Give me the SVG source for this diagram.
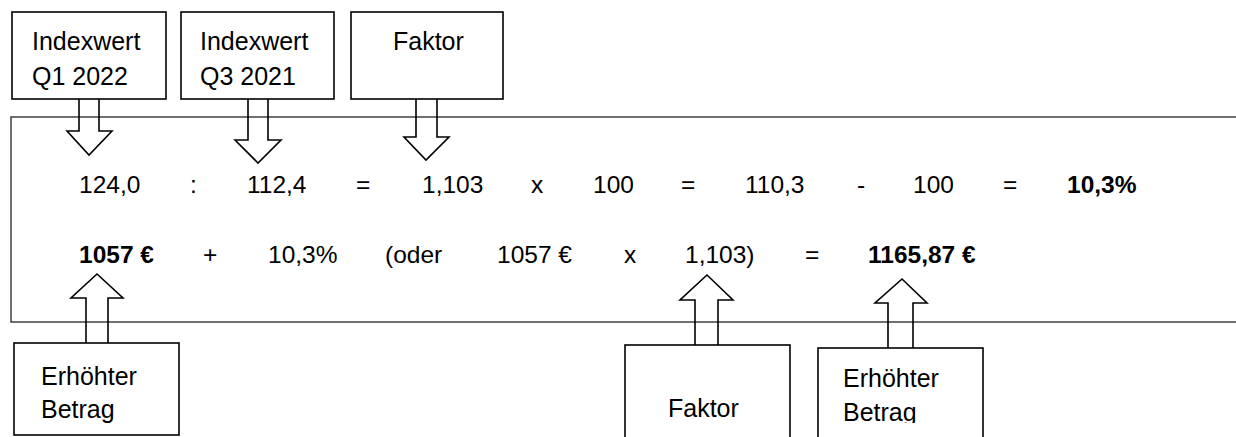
<svg xmlns="http://www.w3.org/2000/svg" width="1236" height="437" viewBox="0 0 1236 437">
<style>
.bg{fill:#ffffff}
.frame{fill:none;stroke:#404040;stroke-width:1.5}
.box{fill:#ffffff;stroke:#000000;stroke-width:1.6}
.arrow{fill:none;stroke:#000000;stroke-width:1.6;stroke-linejoin:miter}
.lbl{font-family:"Liberation Sans",Arial,sans-serif;font-size:25px;fill:#000000}
.eq{font-family:"Liberation Sans",Arial,sans-serif;font-size:24.5px;fill:#000000}
.b{font-weight:bold}
</style>
<defs>
<clipPath id="clipB1"><rect x="14" y="343" width="165" height="80"/></clipPath>
<clipPath id="clipB3"><rect x="818" y="348" width="165" height="75"/></clipPath>
</defs>
<rect class="bg" x="0" y="0" width="1236" height="437"/>

<g id="frame">
<path class="frame" d="M1240,117 H11 V322 H1240"/>
</g>

<g id="equations">
<text class="eq" x="79" y="193">124,0</text>
<text class="eq" x="190" y="193">:</text>
<text class="eq" x="247" y="193">112,4</text>
<text class="eq" x="356" y="193">=</text>
<text class="eq" x="422" y="193">1,103</text>
<text class="eq" x="531" y="193">x</text>
<text class="eq" x="593" y="193">100</text>
<text class="eq" x="681" y="193">=</text>
<text class="eq" x="745" y="193">110,3</text>
<text class="eq" x="857" y="193">-</text>
<text class="eq" x="913" y="193">100</text>
<text class="eq" x="1003" y="193">=</text>
<text class="eq b" x="1067" y="193">10,3%</text>

<text class="eq b" x="79" y="263">1057 €</text>
<text class="eq" x="203" y="263">+</text>
<text class="eq" x="268" y="263">10,3%</text>
<text class="eq" x="385" y="263">(oder</text>
<text class="eq" x="497" y="263">1057 €</text>
<text class="eq" x="624" y="263">x</text>
<text class="eq" x="685" y="263">1,103)</text>
<text class="eq" x="805" y="263">=</text>
<text class="eq b" x="868" y="263">1165,87 €</text>
</g>

<g id="node-indexwert-q1">
<rect class="box" x="12" y="12" width="154" height="87"/>
<text class="lbl" x="32" y="50">Indexwert</text>
<text class="lbl" x="32" y="85">Q1 2022</text>
</g>

<g id="node-indexwert-q3">
<rect class="box" x="181" y="12" width="153" height="87"/>
<text class="lbl" x="200" y="50">Indexwert</text>
<text class="lbl" x="200" y="85">Q3 2021</text>
</g>

<g id="node-faktor-top">
<rect class="box" x="351" y="12" width="152" height="87"/>
<text class="lbl" x="393" y="50">Faktor</text>
</g>

<g id="node-erhoehter-betrag-1">
<rect class="box" x="14" y="343" width="165" height="92"/>
<text class="lbl" clip-path="url(#clipB1)" x="41" y="385">Erhöhter</text>
<text class="lbl" clip-path="url(#clipB1)" x="41" y="418">Betrag</text>
</g>

<g id="node-faktor-bottom">
<rect class="box" x="625" y="345" width="165" height="100"/>
<text class="lbl" x="668" y="417">Faktor</text>
</g>

<g id="node-erhoehter-betrag-2">
<rect class="box" x="818" y="348" width="165" height="100"/>
<text class="lbl" clip-path="url(#clipB3)" x="843" y="387">Erhöhter</text>
<text class="lbl" clip-path="url(#clipB3)" x="843" y="421">Betrag</text>
</g>

<g id="connectors">
<path class="arrow" d="M79,99 V131 H67 L89,155 L112,131 H99 V99"/>
<path class="arrow" d="M248,99 V140 H235 L258,163 L281,140 H268 V99"/>
<path class="arrow" d="M416,99 V137 H404 L426,160 L449,137 H437 V99"/>
<path class="arrow" d="M86,343 V298 H71 L97,274 L123,298 H108 V343"/>
<path class="arrow" d="M695,345 V300 H680 L707,275 L733,300 H718 V345"/>
<path class="arrow" d="M888,348 V303 H875 L902,279 L927,303 H913 V348"/>
</g>
</svg>
